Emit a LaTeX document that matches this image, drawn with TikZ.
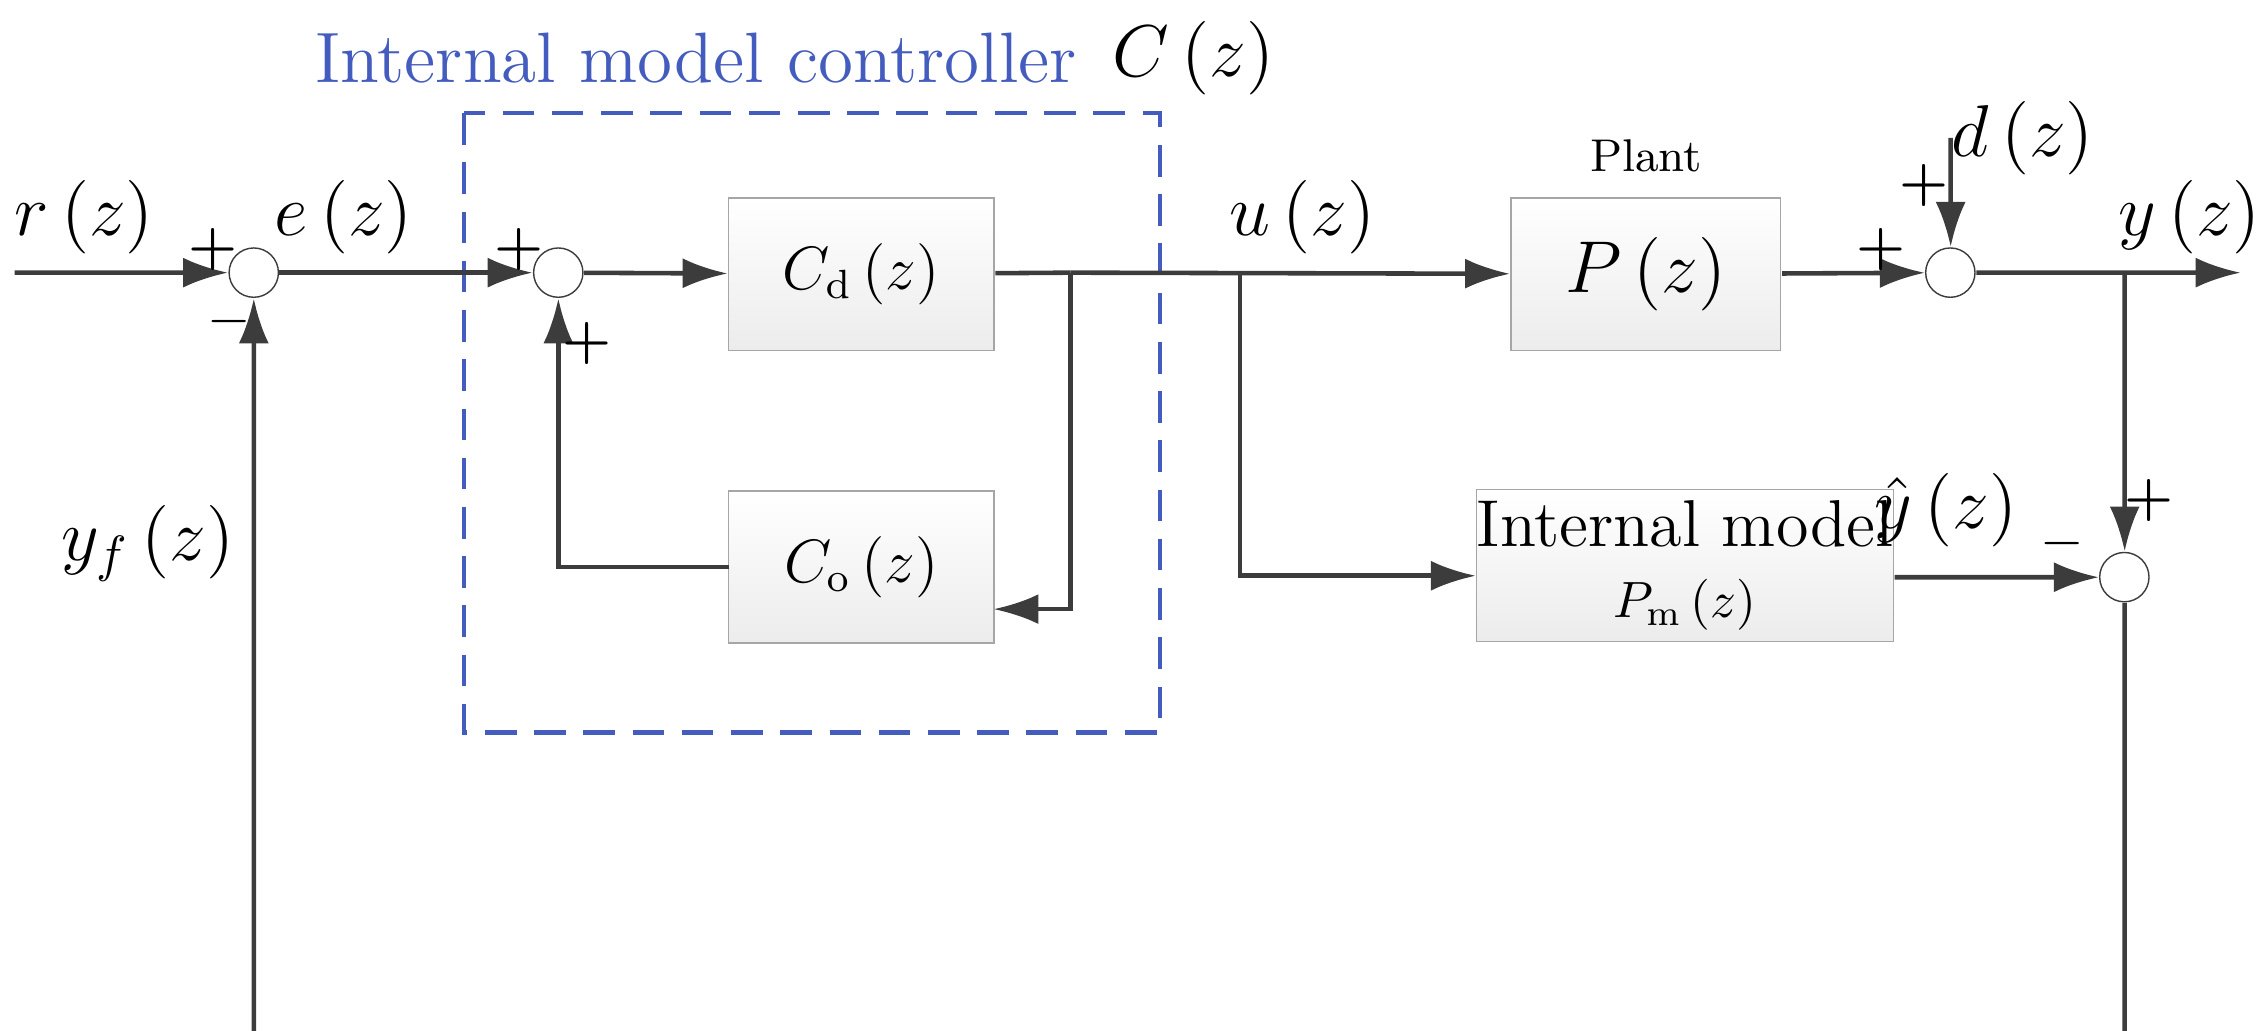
\documentclass[tikz,border=0pt]{standalone}
\usepackage{tikz}
\usetikzlibrary{arrows.meta, positioning, calc}
\definecolor{ctrlblue}{RGB}{68,92,190}
\definecolor{linegray}{RGB}{60,60,60}
\begin{document}
\begin{tikzpicture}[
	  x=0.01cm, y=-0.01cm, scale=1.45, transform shape,
	  font=\fontsize{14}{17}\selectfont,
	  block/.style={
	    draw=gray!70,
	    top color=white,
	    bottom color=gray!15,
	    inner sep=0pt,
	    minimum width=1.83cm,
	    minimum height=1.05cm
	  },
	  sum/.style={draw=linegray, circle, fill=white, minimum size=0.34cm, inner sep=0pt},
	  sign/.style={font=\fontsize{11}{13}\selectfont\bfseries},
	  arrow/.style={-{Latex[length=4.5mm,width=3mm]}, line width=1.3pt, linegray},
	  line/.style={line width=1.3pt, linegray}
	]
	% Controller frame
	\draw[ctrlblue, line width=1.3pt, dash pattern=on 9pt off 5pt] (320,78) rectangle (800,505);
	\node[text=ctrlblue] (ctrltitle) at (480,40) {Internal model controller};
	\node[right=0mm of ctrltitle] {$C\left(z\right)$};

	% Blocks and junctions
	\node[sum] (s1) at (175,188) {};
	\node[sum] (s2) at (385,188) {};
	\node[block, font=\fontsize{12}{14}\selectfont] (cd) at (594,189) {$C_{\mathrm{d}}\left(z\right)$};
	\node[block, font=\fontsize{12}{14}\selectfont] (co) at (594,391) {$C_{\mathrm{o}}\left(z\right)$};
	\node[block, minimum width=1.86cm, font=\fontsize{15}{18}\selectfont] (plant) at (1135,189) {$P\left(z\right)$};
	\node[font=\fontsize{9}{11}\selectfont, above=0.5mm of plant] {Plant};
	\node[block, minimum width=2.65cm, align=center, font=\fontsize{13}{15}\selectfont] (model) at (1162,390)
	  {Internal model\\[-1pt]{\fontsize{10}{12}\selectfont$P_{\mathrm{m}}\left(z\right)$}};
	\node[sum] (s3) at (1345,188) {};
	\node[sum] (s4) at (1465,398) {};

	\coordinate (in) at (10,188);
	\coordinate (out) at (1545,188);
	\coordinate (dtop) at (1345,95);
	\coordinate (bcd) at (738,188);
	\coordinate (bcdlow) at (738,420);
	\coordinate (coin) at (685,420);
	\coordinate (coout) at (503,391);
	\coordinate (bu) at (855,188);
	\coordinate (bulow) at (855,397);
	\coordinate (by) at (1465,188);
	\coordinate (low) at (1465,750);

	% Signals
	\draw[arrow] (in) -- (s1);
	\draw[arrow] (s1) -- (s2);
	\draw[arrow] (s2) -- (cd);
	\draw[line] (cd) -- (bcd);
	\draw[arrow] (bcd) -- (bcdlow) -- (coin);
	\draw[arrow] (coout) -| (s2);
	\draw[arrow] (bcd) -- (plant);
	\draw[arrow] (bu) -- (bulow) -- (model.west |- bulow);
	\draw[arrow] (plant) -- (s3);
	\draw[arrow] (dtop) -- (s3);
	\draw[arrow] (s3) -- (out);
	\draw[arrow] (by) -- (s4);
	\draw[arrow] (model.east |- s4) -- (s4);
	\draw[arrow] (s4) -- (low) -| (s1);

	% Labels
	\node at (58,150) {$r\left(z\right)$};
	\node at (237,150) {$e\left(z\right)$};
	\node at (898,150) {$u\left(z\right)$};
	\node at (1395,95) {$d\left(z\right)$};
	\node at (1510,150) {$y\left(z\right)$};
	\node at (1342,352) {$\hat{y}\left(z\right)$};
	\node at (102,375) {$y_f\left(z\right)$};

	% Signs
	\node[sign] at (147,172) {+};
	\node[sign] at (158,222) {$-$};
	\node[sign] at (358,172) {+};
	\node[sign] at (405,237) {+};
	\node[sign] at (1297,172) {+};
	\node[sign] at (1327,128) {+};
	\node[sign] at (1482,345) {+};
	\node[sign] at (1422,375) {$-$};

	\pgfresetboundingbox
	\useasboundingbox (0,0) rectangle (1562,711);
	\end{tikzpicture}
\end{document}
